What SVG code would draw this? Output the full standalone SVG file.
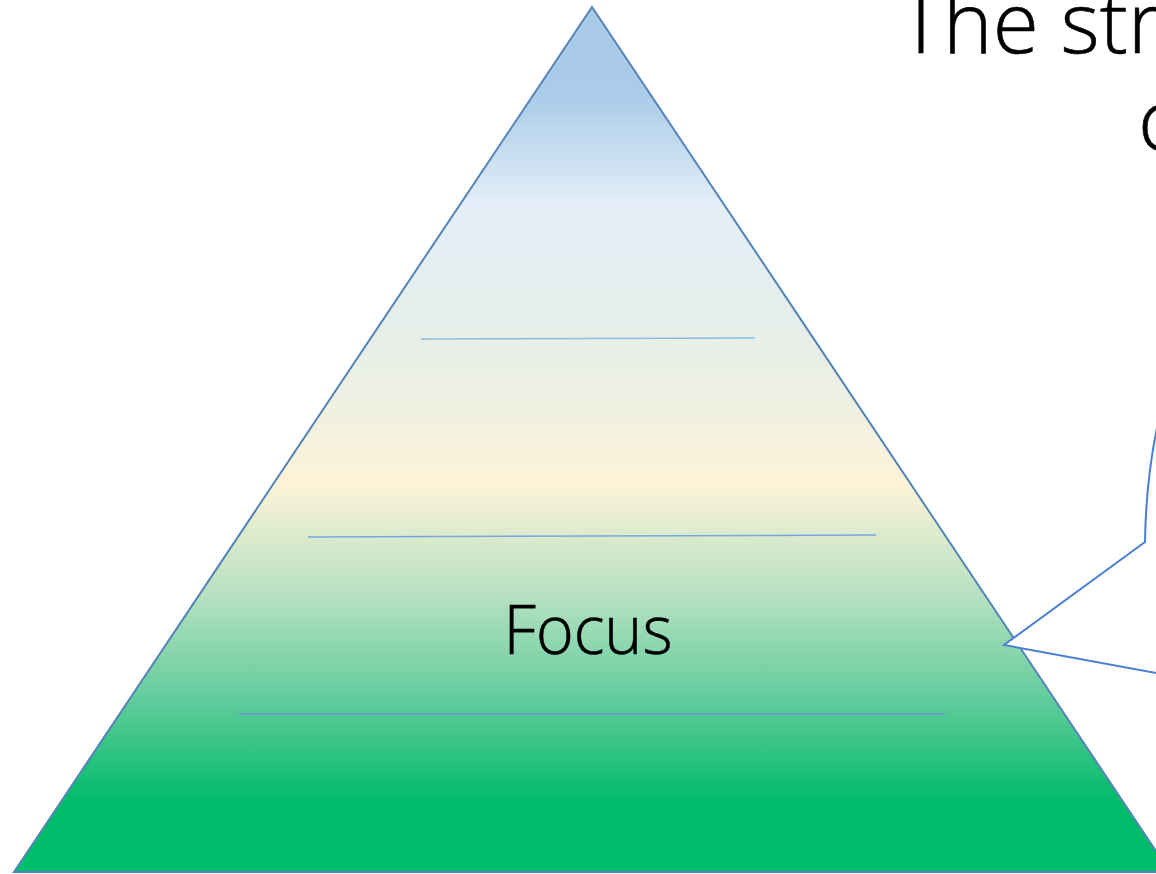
<svg xmlns="http://www.w3.org/2000/svg" width="1156" height="874" viewBox="0 0 1156 874">
<defs>
<linearGradient id="g" x1="0" y1="7" x2="0" y2="872" gradientUnits="userSpaceOnUse">
<stop offset="0" stop-color="#a8cae8"/>
<stop offset="0.1" stop-color="#aacbe9"/>
<stop offset="0.23" stop-color="#e3eef8"/>
<stop offset="0.34" stop-color="#e4eeec"/>
<stop offset="0.45" stop-color="#edf0e2"/>
<stop offset="0.55" stop-color="#fdf3d8"/>
<stop offset="0.685" stop-color="#b3e0c0"/>
<stop offset="0.8" stop-color="#62cc9c"/>
<stop offset="0.92" stop-color="#00bb6a"/>
<stop offset="1" stop-color="#00be6c"/>
</linearGradient>
<style>
.t{font-family:"Open Sans","Lato","Liberation Sans",sans-serif;font-weight:300;fill:#000}
.div{stroke-width:1.5;fill:none}
</style>
</defs>
<rect width="1156" height="874" fill="#fff"/>
<g id="pyramid">
<path d="M592,7 L1170,872 L14,872 Z" fill="url(#g)" stroke="#5584b8" stroke-width="2"/>
<line class="div" x1="421" y1="339" x2="755" y2="338" stroke="#8bbbe0"/>
<line class="div" x1="308" y1="537" x2="876" y2="535" stroke="#7aa6de"/>
<line class="div" x1="239" y1="714" x2="945" y2="714" stroke="#6a90d8"/>
<text class="t" x="588" y="654" font-size="68" text-anchor="middle" textLength="169" lengthAdjust="spacingAndGlyphs" stroke="#000" stroke-width="0.6">Focus</text>
</g>
<g id="callout">
<path d="M1162,405 Q1146,470 1145,542 L1004,645 L1162,674" fill="#fff" stroke="#4a80d4" stroke-width="2"/>
</g>
<g id="title">
<text class="t" x="899" y="53" font-size="84" stroke="#000" stroke-width="0.6">The stra</text>
<text class="t" x="1138" y="150" font-size="84" stroke="#000" stroke-width="0.6">c</text>
</g>
</svg>
